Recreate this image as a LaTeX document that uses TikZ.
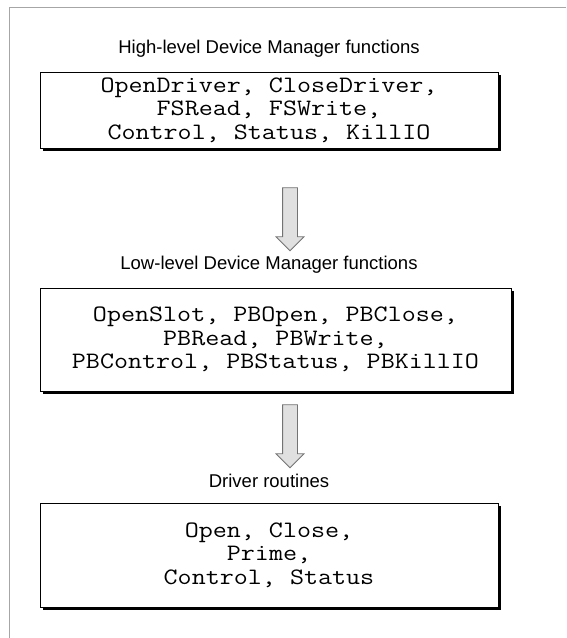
\documentclass[tikz,border=0pt]{standalone}
\usepackage{fontspec}
\setmainfont{Liberation Sans}
\setmonofont{Latin Modern Mono}[FakeStretch=1.16]
\usepackage{tikz}
\usetikzlibrary{shapes,arrows,shadows}
\tikzstyle{block} = [rectangle, draw=black, line width=1pt, fill=white,
    text centered, align=center, inner sep=0pt,
    font=\ttfamily\fontsize{23.5}{23.5}\selectfont,
    drop shadow={shadow xshift=2.5pt, shadow yshift=-2.5pt, opacity=1, fill=black}]
\tikzstyle{title} = [font=\fontsize{18.5}{18.5}\selectfont, inner sep=0pt]
\tikzstyle{downarrow} = [single arrow, draw=black!55, fill=black!12, line width=0.8pt,
    shape border rotate=270, minimum height=63pt, minimum width=27pt,
    single arrow head extend=6.5pt, single arrow tip angle=90, inner sep=7pt]

\begin{document}
\begin{tikzpicture}[x=1pt, y=-1pt]
    \useasboundingbox (0,0) rectangle (566,638);
    % Frame
    \draw[black!35, line width=1pt] (566,7) -- (9,7) -- (9,638);

    % Place nodes
    \node [title] (hightitle) at (269,49) {High-level Device Manager functions};
    \node [block, minimum width=458pt, minimum height=76pt] (high) at (269,110)
        {OpenDriver, CloseDriver,\\ FSRead, FSWrite,\\ Control, Status, KillIO};
    \node [downarrow] (arrowone) at (290,215.5) {};
    \node [title] (lowtitle) at (269,265) {Low-level Device Manager functions};
    \node [block, minimum width=471pt, minimum height=103pt] (low) at (275.5,339.5)
        {OpenSlot, PBOpen, PBClose,\\ PBRead, PBWrite,\\ PBControl, PBStatus, PBKillIO};
    \node [downarrow] (arrowtwo) at (290,432.5) {};
    \node [title] (drivertitle) at (269,481) {Driver routines};
    \node [block, minimum width=458pt, minimum height=104pt] (driver) at (269,555)
        {Open, Close,\\ Prime,\\ Control, Status};
\end{tikzpicture}
\end{document}
